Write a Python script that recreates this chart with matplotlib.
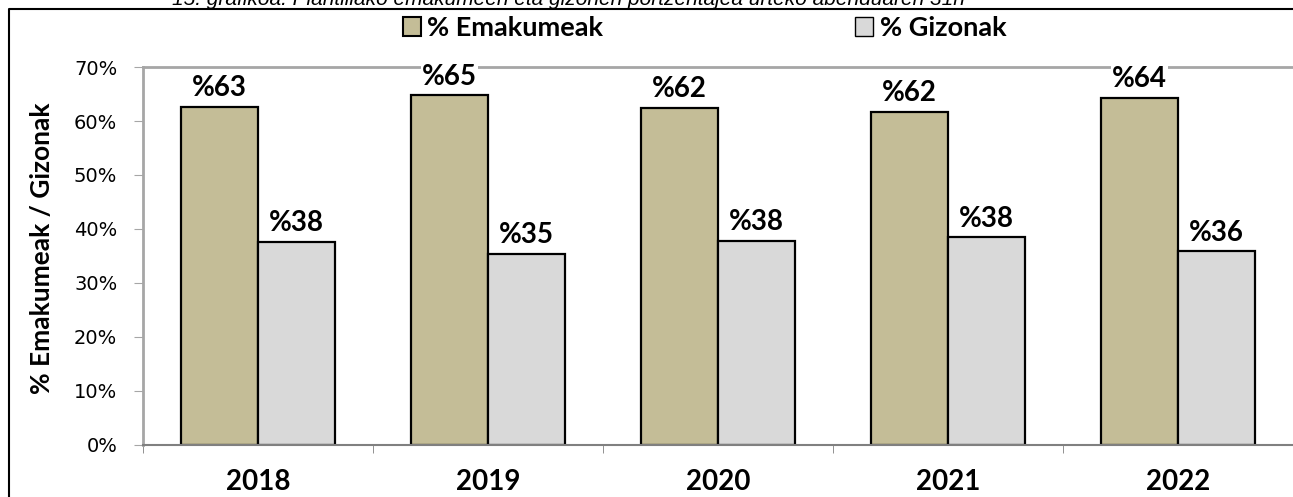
import numpy as np
import matplotlib
matplotlib.use("Agg")
import matplotlib.pyplot as plt
from matplotlib.lines import Line2D
from matplotlib.patches import Patch

# data
years = ["2018", "2019", "2020", "2021", "2022"]
emakumeak = [62.6, 64.8, 62.4, 61.7, 64.3]
gizonak = [37.6, 35.4, 37.8, 38.5, 35.9]
emak_labels = ["%63", "%65", "%62", "%62", "%64"]
gizon_labels = ["%38", "%35", "%38", "%38", "%36"]
yticks = [0, 10, 20, 30, 40, 50, 60, 70]

col_emak = "#C4BD97"
col_gizon = "#D9D9D9"
bold_font = "Lato"
bold_w = "bold"

W, H = 1293, 497
fig = plt.figure(figsize=(W / 100, H / 100), dpi=100)
ax = fig.add_axes([143 / W, 1 - 445 / H, 1 - 143 / W, (445 - 67) / H])

x = np.arange(len(years))
bw = 0.335
b1 = ax.bar(x - bw / 2, emakumeak, bw, color=col_emak, edgecolor="black", linewidth=1.6, zorder=2)
b2 = ax.bar(x + bw / 2, gizonak, bw, color=col_gizon, edgecolor="black", linewidth=1.6, zorder=2)

# value labels with white box so they cut the top line
for bars, labs in [(b1, emak_labels), (b2, gizon_labels)]:
    for rect, lab in zip(bars, labs):
        ax.annotate(lab, (rect.get_x() + rect.get_width() / 2, rect.get_height()),
                    xytext=(0, 4), textcoords="offset points", ha="center", va="bottom",
                    fontsize=20, fontweight=bold_w, family=bold_font,
                    bbox=dict(boxstyle="square,pad=0.05", fc="white", ec="none"),
                    zorder=5, annotation_clip=False)

ax.set_xlim(-0.5, len(years) - 0.5)
ax.set_ylim(0, 70)
ax.set_yticks(yticks)
ax.set_yticklabels([f"{v}%" for v in yticks], fontsize=14, family="DejaVu Sans")
ax.tick_params(axis="y", length=6.5, color="#A6A6A6", pad=12)

ax.set_xticks(x)
ax.set_xticklabels(years, fontsize=20, fontweight=bold_w, family=bold_font)
ax.set_xticks(np.arange(-0.5, len(years), 1), minor=True)
ax.tick_params(axis="x", which="major", length=0, pad=17)
ax.tick_params(axis="x", which="minor", length=6, color="#808080")

ax.set_ylabel("% Emakumeak / Gizonak", fontsize=19, fontweight=bold_w, family=bold_font)
ax.yaxis.set_label_coords(-0.077, 0.52)

ax.spines["right"].set_visible(False)
ax.spines["top"].set_color("#A6A6A6")
ax.spines["top"].set_linewidth(2)
ax.spines["left"].set_color("#A6A6A6")
ax.spines["left"].set_linewidth(2)
ax.spines["bottom"].set_color("#808080")
ax.spines["bottom"].set_linewidth(1.5)

# legend
handles = [Patch(facecolor=col_emak, edgecolor="black", linewidth=1.5),
           Patch(facecolor=col_gizon, edgecolor="black", linewidth=1)]
fig.legend(handles, ["% Emakumeak", "% Gizonak"], ncol=2, loc="center left",
           bbox_to_anchor=(403 / W, 1 - 28 / H), frameon=False, borderpad=0, borderaxespad=0,
           prop=dict(family=bold_font, weight=bold_w, size=19.5),
           handlelength=0.65, handleheight=0.65, handletextpad=0.25, columnspacing=9.3)

# chart frame, partly cut by the picture edge
fig.add_artist(Line2D([9 / W, 9 / W, 1], [0, 1 - 9 / H, 1 - 9 / H], color="black", linewidth=1.5))

# title, cut at the top edge
fig.text(568 / W, 1 - 5 / H,
         "15. grafikoa. Plantillako emakumeen eta gizonen portzentajea urteko abenduaren 31n",
         ha="center", va="baseline", fontsize=15, style="italic", family="Liberation Sans")

fig.savefig("out.png", dpi=100)
